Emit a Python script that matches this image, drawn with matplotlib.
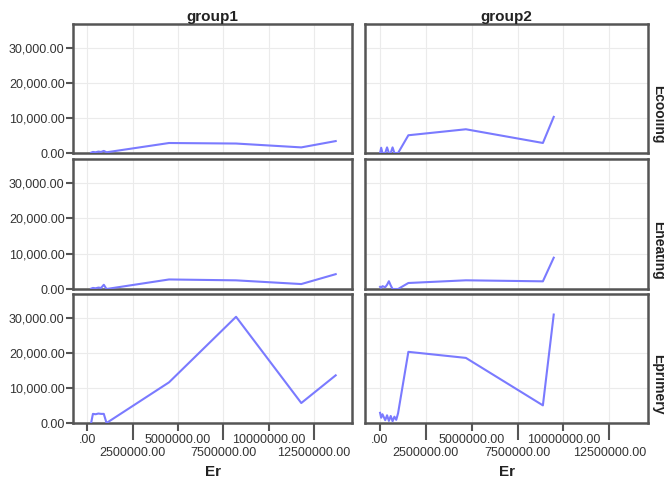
import matplotlib
matplotlib.use("Agg")
import matplotlib.pyplot as plt

plt.rcParams['font.family'] = ['Liberation Sans', 'DejaVu Sans']

# data (Er in raw units)
groups = ["group1", "group2"]
measures = ["Ecooling", "Eheating", "Eprimery"]

er_group1 = [200000, 300000, 450000, 600000, 750000, 900000, 1050000,
             4500000, 8200000, 11800000, 13700000]
ecooling_group1 = [100, 300, 200, 400, 300, 600, 200, 2850, 2700, 1600, 3400]
eheating_group1 = [100, 300, 200, 400, 300, 1200, 0, 2700, 2450, 1400, 4200]
eprimery_group1 = [0, 2600, 2500, 2700, 2600, 2600, 0, 11600, 30300, 5700, 13600]

er_group2 = [20000, 80000, 150000, 300000, 400000, 500000, 600000, 700000,
             800000, 900000, 1000000, 1560000, 4690000, 8880000, 9470000]
ecooling_group2 = [0, 1500, 0, 0, 1600, 0, 0, 1600, 0, 0, 0, 5060, 6770, 2860, 10300]
eheating_group2 = [600, 300, 800, 500, 1200, 2200, 1000, 0, 0, 0, 0, 1700, 2460, 2170, 8860]
eprimery_group2 = [2900, 1500, 2500, 800, 2200, 600, 2000, 500, 1800, 900, 2800,
                   20300, 18570, 5030, 30940]

series = {
    "group1": (er_group1, [ecooling_group1, eheating_group1, eprimery_group1]),
    "group2": (er_group2, [ecooling_group2, eheating_group2, eprimery_group2]),
}

x_major = [0, 5000000, 10000000]
x_minor = [2500000, 7500000, 12500000]
y_ticks = [0, 10000, 20000, 30000]

W, H = 664, 484
fig = plt.figure(figsize=(W / 100, H / 100), dpi=100)
fig.patch.set_facecolor("white")


def box(l, t, r, b):
    return [l / W, 1 - b / H, (r - l) / W, (b - t) / H]


def xfmt(v):
    return ".00" if v == 0 else f"{v:.2f}"


cols = [(73, 352), (365, 648)]
rows = [(24, 153), (159, 289), (294, 423)]
line_color = "#7a7aff"
frame_color = "#555555"
text_color = "#333333"

for ci, g in enumerate(groups):
    er, vals = series[g]
    for ri, m in enumerate(measures):
        l, r = cols[ci]
        t, b = rows[ri]
        ax = fig.add_axes(box(l, t, r, b))
        ax.plot(er, vals[ri], color=line_color, lw=1.5, zorder=3)
        ax.set_xlim(-800000, 14600000)
        ax.set_ylim(0, 36800)
        ax.set_yticks(y_ticks)
        ax.set_yticklabels([f"{v:,.2f}" for v in y_ticks])
        ax.set_xticks(x_major)
        ax.set_xticks(x_minor, minor=True)
        ax.grid(True, which="both", color="#ebebeb", lw=0.8, zorder=0)
        for s in ax.spines.values():
            s.set_color(frame_color)
            s.set_linewidth(1.8)
        ax.tick_params(axis="y", length=5, width=1.5, color=frame_color,
                       labelsize=9, labelcolor=text_color, pad=1)
        if ci != 0:
            ax.tick_params(axis="y", left=False, labelleft=False)
        if ri == len(measures) - 1:
            # staggered labels like the SPSS output
            ax.set_xticklabels([xfmt(v) for v in x_major])
            ax.set_xticklabels([xfmt(v) for v in x_minor], minor=True)
            ax.tick_params(axis="x", which="major", length=6, width=1.5,
                           color=frame_color, labelsize=9, labelcolor=text_color, pad=2)
            ax.tick_params(axis="x", which="minor", length=12, width=1.5,
                           color=frame_color, labelsize=9, labelcolor=text_color, pad=5)
        else:
            ax.tick_params(axis="x", which="both", bottom=False, labelbottom=False)
        if ci == len(groups) - 1:
            fig.text(651 / W, 1 - ((t + b) / 2 + 26) / H, m, rotation=270,
                     ha="left", va="center", fontsize=10, fontweight="bold",
                     color="#222222")
    fig.text((cols[ci][0] + cols[ci][1]) / 2 / W, 1 - 17 / H, g, ha="center",
             va="center", fontsize=11, fontweight="bold", color="#222222")
    fig.text((cols[ci][0] + cols[ci][1]) / 2 / W, 1 - 472 / H, "Er", ha="center",
             va="center", fontsize=11, fontweight="bold", color="#222222")

fig.savefig("out.png", dpi=100, facecolor="white")
